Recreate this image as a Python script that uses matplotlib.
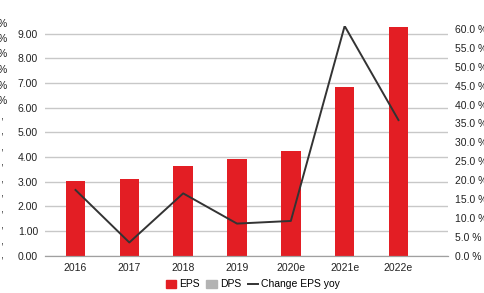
import matplotlib
matplotlib.use("Agg")
from matplotlib import pyplot as plt
from matplotlib.patches import Patch
from matplotlib.lines import Line2D
import numpy as np

plt.rcParams['font.family'] = ['Liberation Sans', 'DejaVu Sans']
plt.rcParams['font.size'] = 7.5

anos = ["2016", "2017", "2018", "2019", "2020e", "2021e", "2022e"]
eps = [3.02, 3.12, 3.62, 3.92, 4.24, 6.82, 9.28]
variacao_eps = [17.4, 3.5, 16.5, 8.5, 9.2, 60.8, 35.9]  # em %

vermelho = "#e31e24"
cinza_grade = "#c8c8c8"

fig = plt.figure(figsize=(4.85, 2.93), dpi=100)
ax = fig.add_axes([45/485, 1 - 255.7/293, (448 - 45)/485, (255.7 - 26.3)/293])
ax2 = ax.twinx()

x = np.arange(len(anos))
ax.bar(x, eps, width=0.365, color=vermelho, zorder=2)
ax2.plot(x, variacao_eps, color="#333333", linewidth=1.4, zorder=3)

ax.set_xlim(-0.567, 6.92)
ax.set_ylim(0, 9.3)
ax.set_yticks(np.arange(0, 10, 1))
ax.set_yticklabels([f"{v:.2f}" for v in range(10)])
ax2.set_ylim(0, 9.3 * 24.67 / 3.778)
ax2.set_yticks(np.arange(0, 61, 5))
ax2.set_yticklabels([f"{v:.1f} %" for v in range(0, 61, 5)])

ax.set_xticks(x)
ax.set_xticklabels(anos)

ax.yaxis.grid(True, color=cinza_grade, linewidth=1, zorder=0)
ax.set_axisbelow(True)
for eixo in (ax, ax2):
    for lado in ("top", "left", "right"):
        eixo.spines[lado].set_visible(False)
    eixo.spines["bottom"].set_color("#a0a0a0")
ax.tick_params(axis="both", length=0, colors="#222222", pad=5)
ax.tick_params(axis="x", pad=5)
ax2.tick_params(axis="y", length=0, colors="#222222", pad=5)

handles = [Patch(color=vermelho), Patch(color="#b3b3b3"),
           Line2D([], [], color="#333333", linewidth=1.4)]
fig.legend(handles, ["EPS", "DPS", "Change EPS yoy"], loc="lower center",
           bbox_to_anchor=(253/485, -0.02), ncol=3, frameon=False,
           handlelength=1.0, handleheight=0.9, handletextpad=0.3, columnspacing=0.6)

# restos cortados do grafico vizinho na margem esquerda
for y in [24, 39, 54, 70, 86, 101]:
    fig.text(7/485, 1 - y/293, "%", ha="right", va="center", color="#222222", fontsize=7.5)
for y in [117, 132, 148, 163, 179, 194, 210, 226, 241, 256]:
    fig.text(2.5/485, 1 - y/293, ",", ha="right", va="center", color="#222222", fontsize=7.5)

plt.savefig("out.png", dpi=100)
